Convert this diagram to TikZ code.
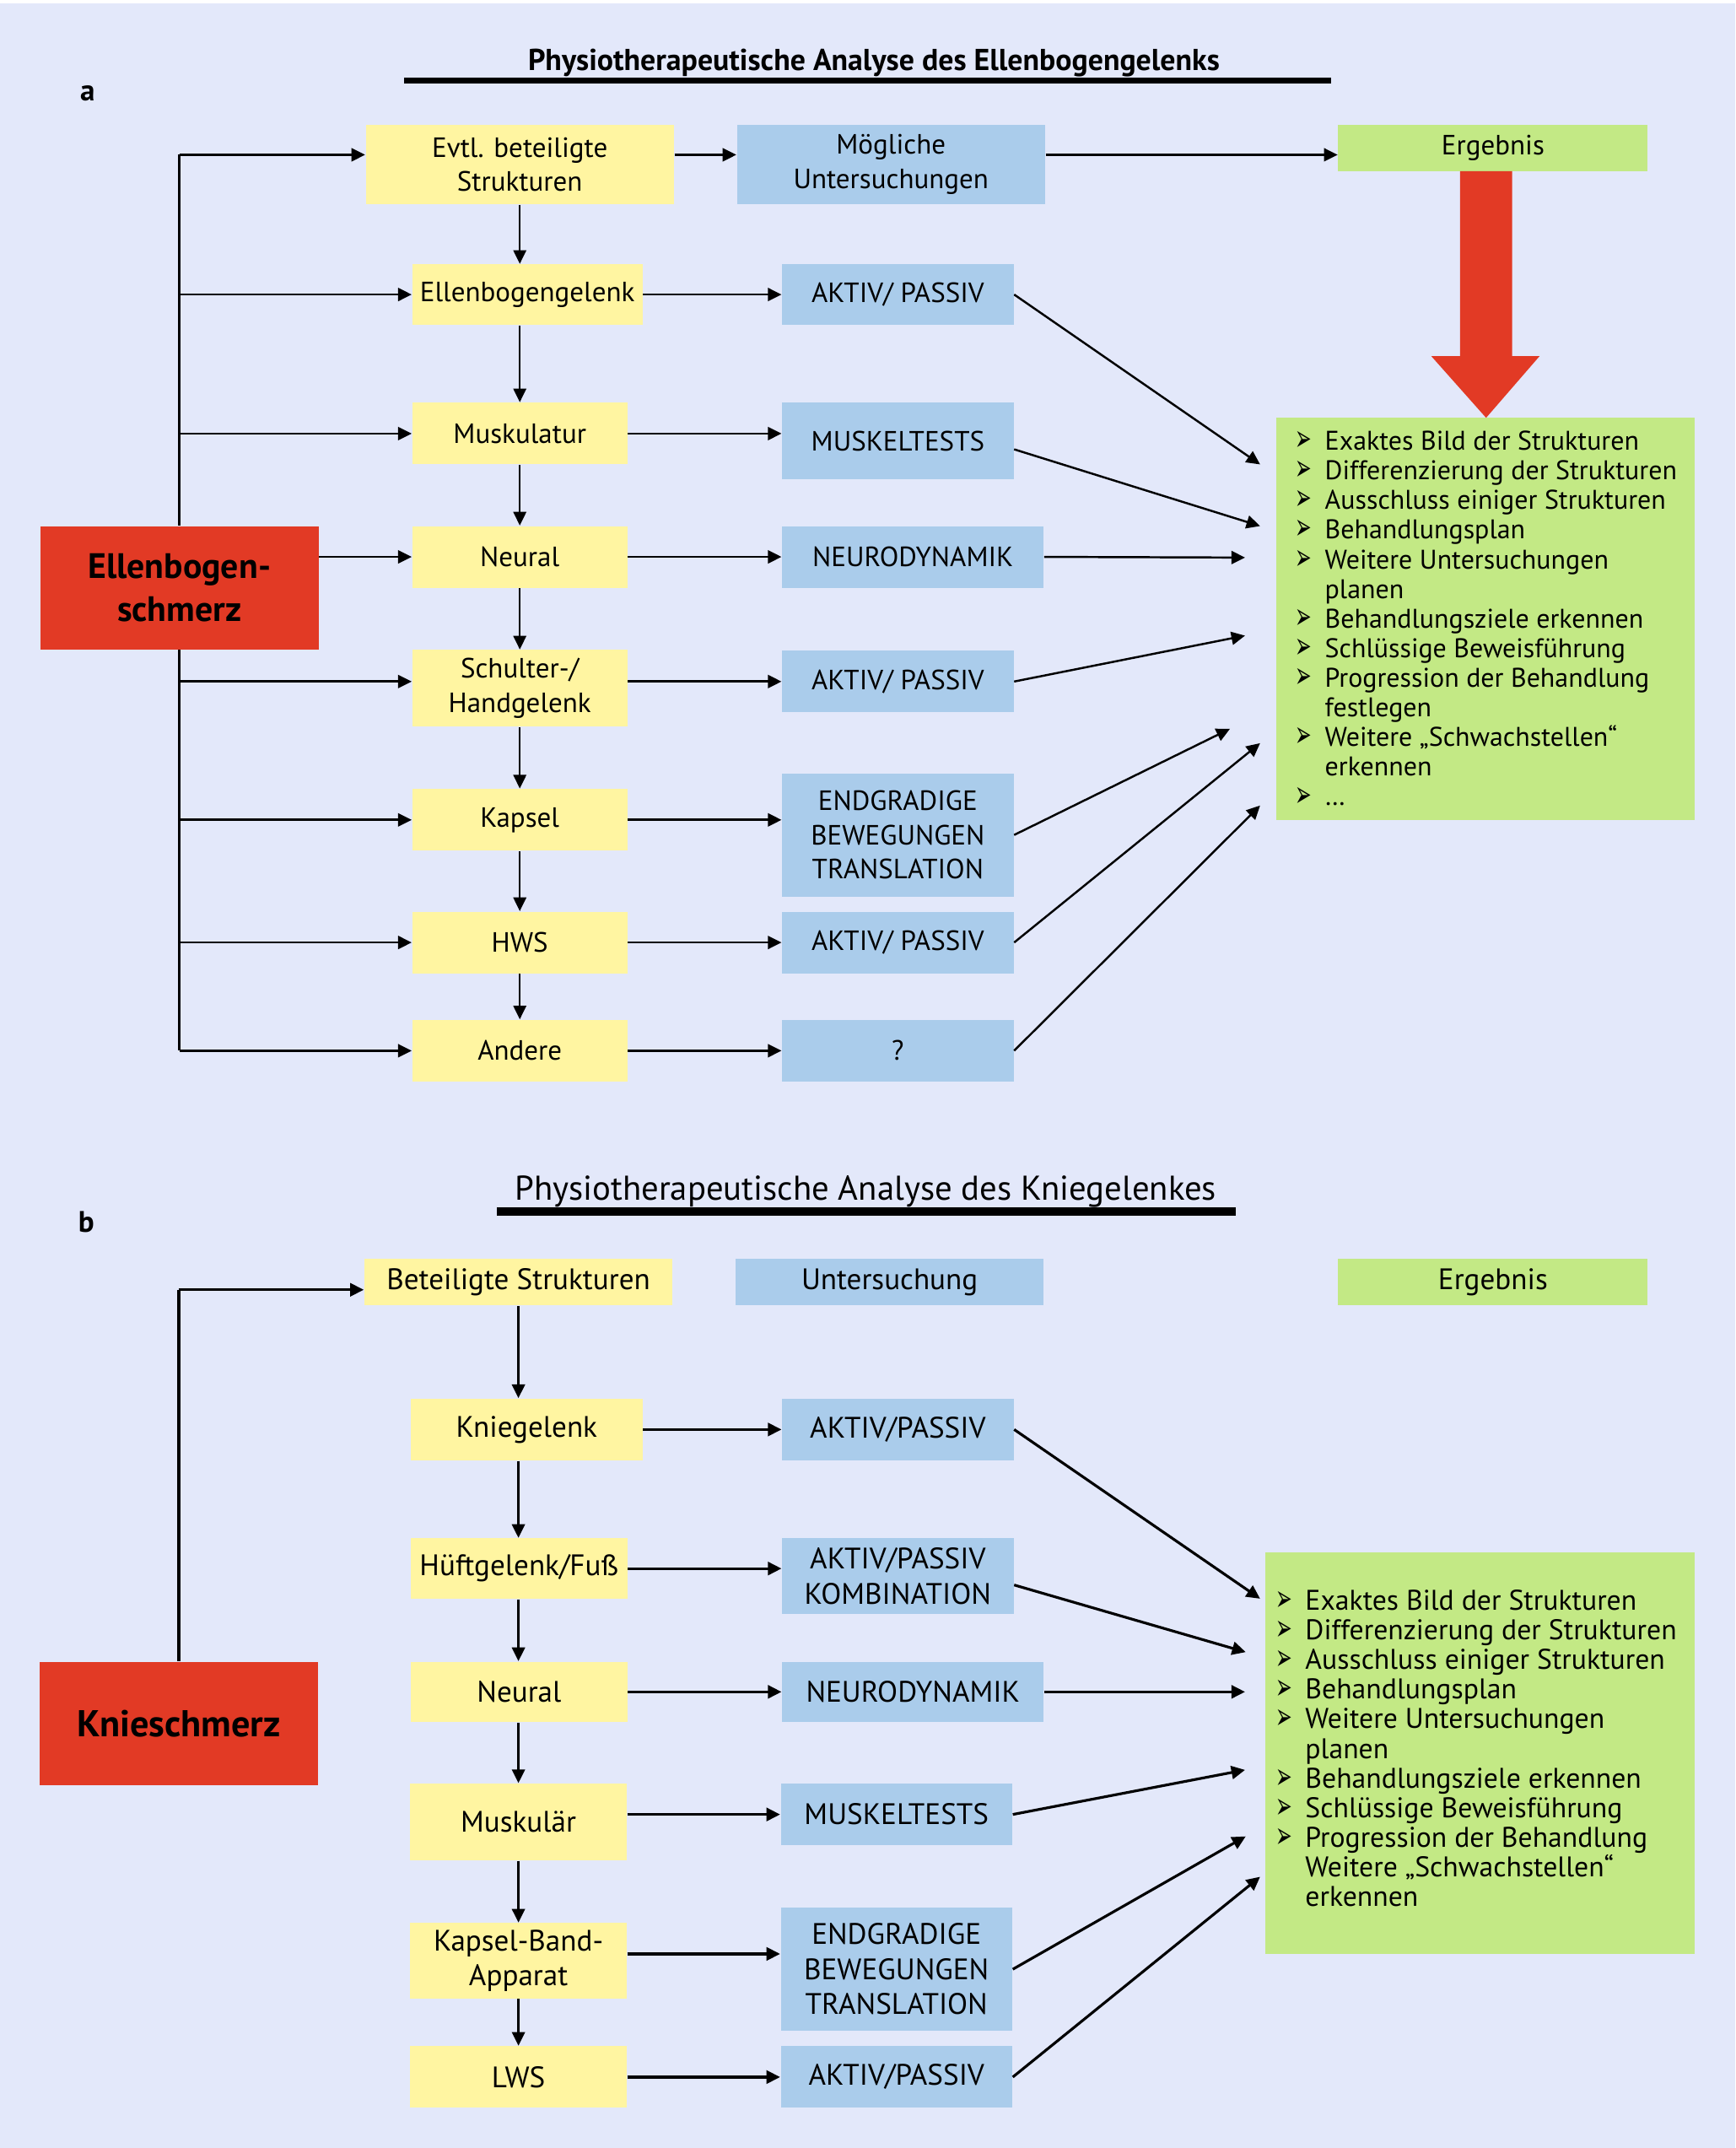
\documentclass[tikz,border=0pt]{standalone}
\usepackage{fontspec}
\usepackage{graphicx}
\setmainfont{PT Sans}
\newfontfamily\symfont{DejaVu Sans}
\usetikzlibrary{arrows.meta}

\definecolor{bglav}{HTML}{E3E8FA}
\definecolor{boxyellow}{HTML}{FFF5A1}
\definecolor{boxblue}{HTML}{AACCEB}
\definecolor{boxgreen}{HTML}{C3E985}
\definecolor{boxred}{HTML}{E23A25}

\newcommand{\ux}{0.01625cm}
\newcommand{\fa}{\fontsize{9.4}{11.5}\selectfont}
\newcommand{\fb}{\fontsize{10}{11.8}\selectfont}
\newcommand{\itm}{\makebox[10pt][l]{\raisebox{-0.3pt}{\resizebox{5.6pt}{6.6pt}{\symfont ➢}}}}
\newcommand{\ind}{\makebox[10pt]{}}

\tikzset{
  box/.style={inner sep=0pt, align=center},
  wh/.style 2 args={minimum width={#1*\ux}, minimum height={#2*\ux}},
  ybox/.style={box, fill=boxyellow},
  bbox/.style={box, fill=boxblue},
  gbox/.style={box, fill=boxgreen},
  rbox/.style={box, fill=boxred},
  list/.style={anchor=north west, align=left, inner sep=0pt},
  tip/.style={-{Triangle[length=4.6pt, width=4.4pt]}},
}

\begin{document}
\begin{tikzpicture}[x=0.01625cm, y=-0.01625cm,
  trunk/.style={line width=1pt},
  harra/.style={tip, line width=0.75pt},
  chaina/.style={tip, line width=0.45pt},
  diaga/.style={tip, line width=0.7pt},
  harrb/.style={tip, line width=0.95pt},
  chainb/.style={tip, line width=0.7pt},
  diagb/.style={tip, line width=0.9pt}]
\useasboundingbox (0,0) rectangle (1267,1568);
\fill[white] (0,0) rectangle (1267,1568);
\fill[bglav] (0,2.5) rectangle (1267,1568);

% a: Ellenbogen
\node[font=\bfseries\fontsize{10.2}{12}\selectfont] (titlea) at (638,46) {Physiotherapeutische Analyse des Ellenbogengelenks};
\draw[line width=2pt] (295,59) -- (972,59);
\node[font=\bfseries\fontsize{10}{12}\selectfont] (laba) at (64,68) {a};

\begin{scope}[font=\fa]
\node[ybox, wh={225}{58}] (evtl) at (379.5,120) {Evtl. beteiligte\\Strukturen};
\node[bbox, wh={225}{58}] (moegl) at (650.5,120) {Mögliche\\Untersuchungen};
\node[gbox, wh={226}{34}] (erga) at (1090,108) {Ergebnis};
\node[ybox, wh={168}{44}] (ega) at (385,215) {Ellenbogengelenk};
\node[bbox, wh={169}{44}] (aka1) at (655.5,215) {AKTIV/ PASSIV};
\node[ybox, wh={157}{45}] (muska) at (379.5,316.5) {Muskulatur};
\node[bbox, wh={169}{56}] (mta) at (655.5,322) {MUSKELTESTS};
\node[ybox, wh={157}{45}] (neura) at (379.5,406.5) {Neural};
\node[bbox, wh={191}{45}] (nda) at (666.5,406.5) {NEURODYNAMIK};
\node[ybox, wh={157}{56}] (scha) at (379.5,502.5) {Schulter-/\\Handgelenk};
\node[bbox, wh={169}{45}] (aka2) at (655.5,497.5) {AKTIV/ PASSIV};
\node[ybox, wh={157}{45}] (kapa) at (379.5,598.5) {Kapsel};
\node[bbox, wh={169}{90}] (enda) at (655.5,609.5) {ENDGRADIGE\\BEWEGUNGEN\\TRANSLATION};
\node[ybox, wh={157}{45}] (hwsa) at (379.5,688) {HWS};
\node[bbox, wh={169}{45}] (aka3) at (655.5,688) {AKTIV/ PASSIV};
\node[ybox, wh={157}{45}] (anda) at (379.5,767) {Andere};
\node[bbox, wh={169}{45}] (qa) at (655.5,767) {?};
\node[gbox, wh={306}{293.6}] (resa) at (1084.5,451.8) {};
\node[list, font=\fontsize{9.1}{10}\selectfont] (lista) at ([xshift=14.2*\ux, yshift=-9.6*\ux]resa.north west)
  {\itm Exaktes Bild der Strukturen\\
   \itm Differenzierung der Strukturen\\
   \itm Ausschluss einiger Strukturen\\
   \itm Behandlungsplan\\
   \itm Weitere Untersuchungen\\
   \ind planen\\
   \itm Behandlungsziele erkennen\\
   \itm Schlüssige Beweisführung\\
   \itm Progression der Behandlung\\
   \ind festlegen\\
   \itm Weitere „Schwachstellen“\\
   \ind erkennen\\
   \itm …};
\end{scope}
\node[rbox, wh={203}{90}, font=\bfseries\fontsize{11.9}{14.4}\selectfont] (reda) at (131,429) {Ellenbogen-\\schmerz};

% big red arrow
\fill[boxred] (1066,125) -- (1066,260) -- (1045,260) -- (1085,305) -- (1124,260) -- (1104,260) -- (1104,125) -- cycle;

\coordinate (r0) at (131,113);
\draw[trunk] (reda.north) -- (r0);
\draw[trunk] (reda.south) -- (anda.west -| reda);
\draw[harra] (r0) -- (r0 -| evtl.west);
\draw[harra] (r0 -| evtl.east) -- (r0 -| moegl.west);
\draw[harra] (r0 -| moegl.east) -- (r0 -| erga.west);
\foreach \p in {ega,muska,kapa,hwsa,anda}
  \draw[harra] (\p.west -| reda) -- (\p.west);
\draw[harra] (aka2.west -| reda) -- (aka2.west -| scha.west);
\draw[harra] (reda.east |- neura) -- (neura.west);
\foreach \p/\q in {ega/aka1,muska/mta,neura/nda,kapa/enda,hwsa/aka3,anda/qa}
  \draw[harra] (\p.east) -- (\p.east -| \q.west);
\draw[harra] (aka2.west -| scha.east) -- (aka2.west);
\foreach \p/\q in {evtl/ega,ega/muska,muska/neura,neura/scha,scha/kapa,kapa/hwsa,hwsa/anda}
  \draw[chaina] (\p.south -| evtl) -- (\q.north -| evtl);

\foreach \n/\x/\y in {ea1/920/339,ea2/920/384,ea3/909/407,ea4/909/464,ea5/898/532,ea6/920/542.5,ea7/920/588}
  \coordinate (\n) at (\x,\y);
\foreach \p/\d/\q in {aka1/0/ea1,mta/-6/ea2,nda/0/ea3,aka2/0/ea4,enda/0/ea5,aka3/0/ea6,qa/0/ea7}
  \draw[diaga] ([yshift=\d*\ux]\p.east) -- (\q);

% b: Knie
\node[font=\fontsize{11.6}{13}\selectfont] (titleb) at (632,869.5) {Physiotherapeutische Analyse des Kniegelenkes};
\draw[line width=2.8pt] (363,884.3) -- (902,884.3);
\node[font=\bfseries\fontsize{10}{12}\selectfont] (labb) at (63,892) {b};

\begin{scope}[font=\fb]
\node[ybox, wh={225}{34}] (betb) at (378.5,936) {Beteiligte Strukturen};
\node[bbox, wh={225}{34}] (untb) at (649.5,936) {Untersuchung};
\node[gbox, wh={226}{34}] (ergb) at (1090,936) {Ergebnis};
\node[ybox, wh={169}{45}] (knb) at (384.5,1043.5) {Kniegelenk};
\node[bbox, wh={169}{45}] (akb1) at (655.5,1043.5) {AKTIV/PASSIV};
\node[ybox, wh={158}{44}] (hfb) at (379,1145) {Hüftgelenk/Fuß};
\node[bbox, wh={169}{55}] (kob) at (655.5,1150.5) {AKTIV/PASSIV\\KOMBINATION};
\node[ybox, wh={158}{44}] (neub) at (379,1235) {Neural};
\node[bbox, wh={191}{44}] (ndb) at (666.5,1235) {NEURODYNAMIK};
\node[ybox, wh={158}{56}] (mub) at (378.5,1330) {Muskulär};
\node[bbox, wh={169}{45}] (mtb) at (654.5,1324.5) {MUSKELTESTS};
\node[ybox, wh={158}{55}] (kbb) at (378.5,1431.3) {Kapsel-Band-\\Apparat};
\node[bbox, wh={169}{90}] (endb) at (654.5,1437.5) {ENDGRADIGE\\BEWEGUNGEN\\TRANSLATION};
\node[ybox, wh={158}{45}] (lwsb) at (378.5,1516.2) {LWS};
\node[bbox, wh={169}{45}] (akb2) at (654.5,1516.2) {AKTIV/PASSIV};
\node[gbox, wh={314}{293.3}] (resb) at (1080.5,1279.7) {};
\node[list, font=\fontsize{9.6}{10}\selectfont] (listb) at ([xshift=7.9*\ux, yshift=-27.5*\ux]resb.north west)
  {\itm Exaktes Bild der Strukturen\\
   \itm Differenzierung der Strukturen\\
   \itm Ausschluss einiger Strukturen\\
   \itm Behandlungsplan\\
   \itm Weitere Untersuchungen\\
   \ind planen\\
   \itm Behandlungsziele erkennen\\
   \itm Schlüssige Beweisführung\\
   \itm Progression der Behandlung\\
   \ind Weitere „Schwachstellen“\\
   \ind erkennen};
\end{scope}
\node[rbox, wh={203}{90}, font=\bfseries\fontsize{12.6}{14.4}\selectfont] (redb) at (130.5,1258) {Knieschmerz};

\coordinate (r1) at (130.5,941.5);
\draw[trunk] (redb.north) -- (r1);
\draw[harrb] (r1) -- (r1 -| betb.west);
\foreach \p/\q in {knb/akb1,hfb/kob,neub/ndb,lwsb/akb2}
  \draw[harrb] (\p.east) -- (\p.east -| \q.west);
\draw[harrb] (mtb.west -| mub.east) -- (mtb.west);
\draw[harrb] ([yshift=5*\ux]kbb.east) -- ([yshift=5*\ux]kbb.east -| endb.west);
\foreach \p/\q in {betb/knb,knb/hfb,hfb/neub,neub/mub,mub/kbb,kbb/lwsb}
  \draw[chainb] (\p.south -| betb) -- (\q.north -| betb);

\foreach \n/\x/\y in {eb1/920/1167,eb2/909.5/1206,eb3/909/1235,eb4/909/1292,eb5/909.5/1340.5,eb6/920/1370}
  \coordinate (\n) at (\x,\y);
\foreach \p/\d/\q in {akb1/0/eb1,kob/-6.5/eb2,ndb/0/eb3,mtb/0/eb4,endb/0/eb5,akb2/0/eb6}
  \draw[diagb] ([yshift=\d*\ux]\p.east) -- (\q);
\end{tikzpicture}
\end{document}
